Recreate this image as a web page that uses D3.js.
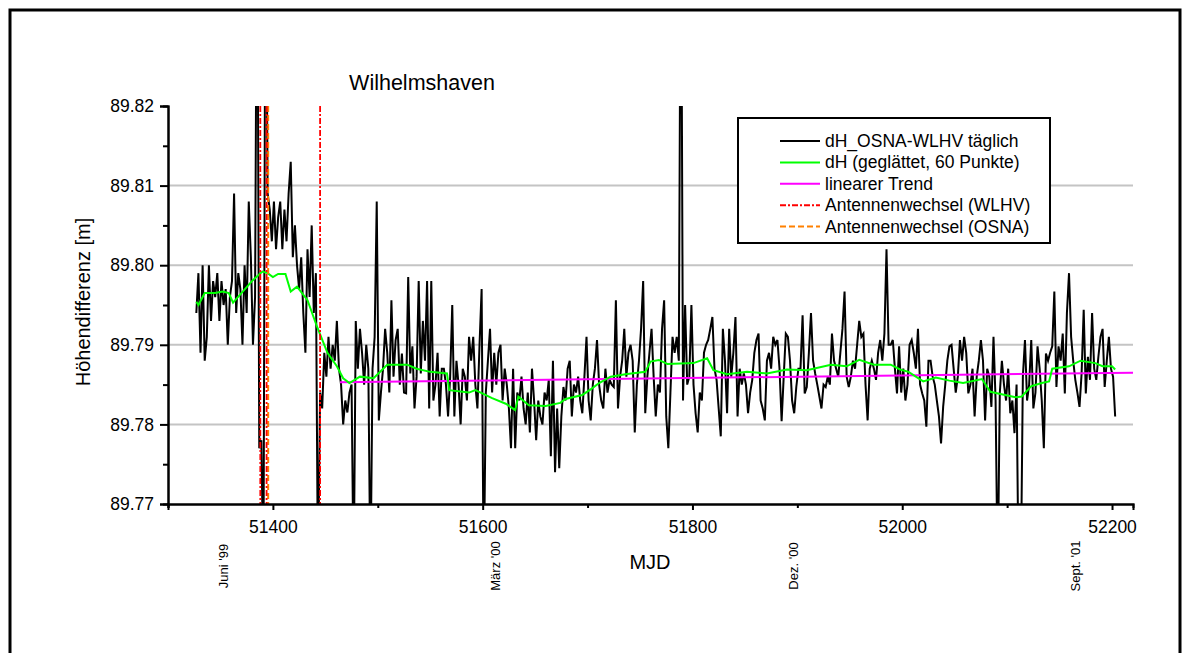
<!DOCTYPE html>
<html>
<head>
<meta charset="utf-8">
<script src="https://cdn.jsdelivr.net/npm/d3@7"></script>
<style>
  body { margin: 0; background: #fff; }
  svg text { font-family: "Liberation Sans", Arial, sans-serif; fill: #000; }
</style>
</head>
<body>
<div id="chart"></div>
<script>
// daily height difference OSNA-WLHV, every 2nd day
// values in mm above 89.780 m
var baseHeight = 89.78;
var dhStart = 51327;
var dhStep = 2;
var dhMm = [
  14, 19, 9, 20, 8, 11, 20, 13, 18, 16,
  19, 13, 18, 15, 17, 10, 16, 18, 29, 14,
  19, 17, 10, 20, 14, 28, 21, 10, 16, 70,
  -3, -2, -20, 70, 29, 27, 23, 28, 22, 26,
  28, 22, 27, 23, 29, 33, 21, 25, 20, 17,
  21, 14, 9, 22, 16, 25, 14, 19, -20, 4,
  2, 9, 6, 11, 7, 10, 8, 13, 7, 5,
  0, 3, 1.5, 4, 5, -20, 13, 7, 12, 9,
  5, 10, 7, -20, 7, 11, 28, 0.5, 4, 7,
  12, 9, 4, 15.6, 6, 10.6, 12, 5, 8.9, 4,
  3.9, 18.5, 6.4, 9.8, 2, 6, 18, 6.4, 13, 8,
  18, 2, 18, 3, 5, 9, 1, 7, 7, 5,
  1, 6, 15, 1, 8, 5, 0, 7, 6, 3,
  11, 8, 11, 5, 2, 10, 17, -20, 4, 8,
  12, 4, 9, 5, 9, 10, 3, 7, 5, 2,
  -3, 7, -3, 4, 3, 6, 2, 0, 4, -1,
  7, 3, -2, 3, 1, 0, 4, 3, 5.6, -4,
  8, -6, 2, -5.5, 1, 4.7, 3, 7, 8, 1,
  5, 4, 6, 3, 1.4, 6, 11, 3, 0.5, 5,
  7, 10.6, 5, 3, 2, 7, 4, 5.6, 5, 4.7,
  15.6, 2, 6, 8, 12, 6, 9, 10, 8, -1,
  5, 8, 12, 18, 1.4, 6, 9, 12, 6, 1,
  5, 4, 12, 15.6, 1, -3, 4, 11, 9, 11,
  8, 70, 3, 15, 5, 6, 15, 5, 1.4, -1,
  4, 3, 9, 10, 10.6, 12, 13.5, 7, 5.6, 2,
  -1.5, 12, 8, 1.4, 12, 6, 9, 13.5, 1, 7,
  5, 6.4, 5, 1.4, 4, 5.6, 9, 10.6, 11.4, 3,
  2, 0.5, 8, 9, 7, 11, 10, 10.6, 7, 0.4,
  6, 11.4, 11, 8, 3, 1.4, 4.7, 7, 7, 13.7,
  3.9, 4.7, 9, 14, 8, 6.4, 5, 3.5, 2, 5,
  4.7, 6, 5, 11.4, 8, 7, 6, 9, 12, 16.7,
  6, 4.7, 6, 8, 7, 10, 13, 11, 11.4, 5,
  0.5, 7, 8, 7, 5.6, 9, 10.6, 8, 11.4, 22,
  10, 10, 10.6, 7, 3.9, 9.8, 4, 7, 3, 5,
  10, 10.6, 9, 7, 12, 5, 3.9, 3, -0.3, 8,
  8, 6, 5, 3, 1, -2.4, 2.2, 5, 8, 9.8,
  10, 7, 4, 6, 10.6, 8, 11, 9, 3.9, 5,
  7, 1, 6, 8, 10.6, 8, 0.5, 7, 6, 2.2,
  11, 3, -20, 3.9, 8, 5, 3, 7, 1.4, 3,
  -1.1, 5, -20, -20, 6, 10.6, 3, 5, 10.6, 2,
  4, 9.8, 7, 3, -3, 8.9, 8, 9, 9.8, 16.7,
  4.7, 9.8, 8, 11.4, 3.9, 14, 19, 11, 8, 5.6,
  4, 2.2, 6.4, 14.4, 3.9, 8.5, 5.6, 14, 7, 5.6,
  8.5, 11, 12, 4.7, 8, 11, 7, 6, 1
];

// smoothed curve (60 points), mm above 89.780 m
var smoothMjd = [51327, 51329, 51335, 51345, 51352, 51358, 51362, 51370, 51380, 51390,
  51395, 51400, 51405, 51412, 51417, 51423, 51433, 51442, 51452, 51461,
  51467, 51473, 51483, 51496, 51509, 51528, 51537, 51550, 51566, 51568,
  51587, 51593, 51609, 51622, 51631, 51634, 51644, 51660, 51674, 51679,
  51695, 51704, 51711, 51722, 51736, 51755, 51760, 51768, 51776, 51801,
  51814, 51820, 51833, 51852, 51871, 51890, 51909, 51932, 51947, 51959,
  51973, 51989, 51998, 52006, 52020, 52032, 52045, 52058, 52076, 52084,
  52098, 52108, 52114, 52123, 52133, 52140, 52143, 52159, 52170, 52184,
  52191, 52200, 52203];
var smoothMm = [15.4, 15.0, 16.5, 16.5, 16.7, 16.5, 15.3, 16.5, 18.0, 19.2,
  19.0, 18.5, 18.9, 18.9, 16.7, 17.3, 15.6, 12.3, 9.0, 7.3,
  5.8, 5.2, 6.0, 5.8, 7.5, 7.5, 7.0, 6.6, 6.4, 4.3,
  4.0, 4.3, 3.3, 2.6, 1.8, 3.5, 2.4, 2.3, 2.7, 3.2,
  3.7, 4.5, 5.2, 6.0, 6.3, 6.6, 7.9, 8.1, 7.6, 7.7,
  8.3, 6.8, 6.3, 6.6, 6.4, 6.9, 6.8, 7.5, 7.3, 8.1,
  7.5, 7.5, 6.9, 6.6, 5.4, 5.9, 5.5, 5.2, 5.7, 4.1,
  3.7, 3.4, 3.5, 4.8, 5.2, 5.4, 7.0, 7.3, 8.0, 7.7,
  7.3, 7.3, 6.9];

// linear trend, from/to
var trendMjd = [51464, 52220];
var trendMm = [5.3, 6.5];

// antenna changes (MJD)
var wlhvChanges = [51388, 51394, 51445];
var osnaChanges = [51395.5];

var yTicks = [89.77, 89.78, 89.79, 89.80, 89.81, 89.82];
var yMinor = [89.775, 89.785, 89.795, 89.805, 89.815];
var yGrid = [89.78, 89.79, 89.80, 89.81];
var xTicks = [51400, 51600, 51800, 52000, 52200];
var xMinor = [51300, 51500, 51700, 51900, 52100];

var dateLabels = ["Juni '99", "März '00", "Dez. '00", "Sept. '01"];
var dateMjd = [51352, 51612, 51896, 52165];

var legendLabels = ["dH_OSNA-WLHV täglich", "dH (geglättet, 60 Punkte)", "linearer Trend",
  "Antennenwechsel (WLHV)", "Antennenwechsel (OSNA)"];

// ---------------------------------------------------------------
var width = 1188, height = 653;
var plot = {left: 168, top: 106, right: 1133, bottom: 504};

var svg = d3.select('#chart').append('svg')
  .attr('width', width)
  .attr('height', height);

svg.append('rect')
  .attr('x', 10).attr('y', 10)
  .attr('width', 1170).attr('height', 700)
  .attr('fill', 'none')
  .attr('stroke', '#000')
  .attr('stroke-width', 3);

var x = d3.scaleLinear().domain([51300, 52220]).range([plot.left, plot.right]);
var y = d3.scaleLinear().domain([89.77, 89.82]).range([plot.bottom, plot.top]);

svg.append('clipPath').attr('id', 'plotclip')
  .append('rect')
  .attr('x', plot.left).attr('y', plot.top)
  .attr('width', plot.right - plot.left)
  .attr('height', plot.bottom - plot.top);

// grid
svg.append('g').selectAll('line')
  .data(yGrid)
  .enter().append('line')
  .attr('x1', plot.left).attr('x2', plot.right)
  .attr('y1', function (d) { return y(d); })
  .attr('y2', function (d) { return y(d); })
  .attr('stroke', '#c4c4c4')
  .attr('stroke-width', 2);

var dh = dhMm.map(function (v, i) {
  return {mjd: dhStart + i * dhStep, h: baseHeight + v / 1000};
});
var smooth = smoothMjd.map(function (m, i) {
  return {mjd: m, h: baseHeight + smoothMm[i] / 1000};
});
var trend = trendMjd.map(function (m, i) {
  return {mjd: m, h: baseHeight + trendMm[i] / 1000};
});

var line = d3.line()
  .x(function (d) { return x(d.mjd); })
  .y(function (d) { return y(d.h); });

var plotG = svg.append('g').attr('clip-path', 'url(#plotclip)');

plotG.append('path')
  .datum(dh)
  .attr('d', line)
  .attr('fill', 'none')
  .attr('stroke', '#000')
  .attr('stroke-width', 2)
  .attr('stroke-linejoin', 'miter');

plotG.append('path')
  .datum(trend)
  .attr('d', line)
  .attr('fill', 'none')
  .attr('stroke', '#ff00ff')
  .attr('stroke-width', 2);

plotG.append('path')
  .datum(smooth)
  .attr('d', line)
  .attr('fill', 'none')
  .attr('stroke', '#00ff00')
  .attr('stroke-width', 2);

// antenna changes
plotG.selectAll('.osna')
  .data(osnaChanges)
  .enter().append('line')
  .attr('class', 'osna')
  .attr('x1', function (d) { return x(d); })
  .attr('x2', function (d) { return x(d); })
  .attr('y1', y(89.82)).attr('y2', y(89.77))
  .attr('stroke', '#ff8000')
  .attr('stroke-width', 2)
  .attr('stroke-dasharray', '6,3');

plotG.selectAll('.wlhv')
  .data(wlhvChanges)
  .enter().append('line')
  .attr('class', 'wlhv')
  .attr('x1', function (d) { return x(d); })
  .attr('x2', function (d) { return x(d); })
  .attr('y1', y(89.82)).attr('y2', y(89.77))
  .attr('stroke', '#ff0000')
  .attr('stroke-width', 1.8)
  .attr('stroke-dasharray', '6,2,2,2');

// axes
var yAxis = d3.axisLeft(y).tickValues(yTicks).tickSize(8).tickPadding(6)
  .tickFormat(d3.format('.2f'));
var yMinorAxis = d3.axisLeft(y).tickValues(yMinor).tickSize(5).tickFormat('');
var xAxis = d3.axisBottom(x).tickValues(xTicks).tickSize(6).tickPadding(11)
  .tickFormat(d3.format('d'));
var xMinorAxis = d3.axisBottom(x).tickValues(xMinor).tickSize(4).tickFormat('');

function styleAxis(g) {
  g.select('.domain').attr('stroke-width', 2).attr('stroke', '#000');
  g.selectAll('.tick line').attr('stroke-width', 2).attr('stroke', '#000');
  g.selectAll('text').style('font-size', '17.5px')
    .style('font-family', '"Liberation Sans", Arial, sans-serif');
}

svg.append('g').attr('transform', 'translate(' + plot.left + ',0)').call(yMinorAxis).call(styleAxis);
svg.append('g').attr('transform', 'translate(' + plot.left + ',0)').call(yAxis).call(styleAxis);
svg.append('g').attr('transform', 'translate(0,' + plot.bottom + ')').call(xMinorAxis).call(styleAxis);
svg.append('g').attr('transform', 'translate(0,' + plot.bottom + ')').call(xAxis).call(styleAxis);

// date labels under the axis
svg.selectAll('.datelab')
  .data(dateLabels)
  .enter().append('text')
  .attr('class', 'datelab')
  .attr('transform', function (d, i) {
    return 'translate(' + (x(dateMjd[i]) + 5) + ',566)rotate(-90)';
  })
  .attr('text-anchor', 'middle')
  .style('font-size', '13px')
  .text(function (d) { return d; });

// titles
svg.append('text')
  .attr('x', 422).attr('y', 90)
  .attr('text-anchor', 'middle')
  .style('font-size', '21.5px')
  .text('Wilhelmshaven');

svg.append('text')
  .attr('x', 650).attr('y', 569)
  .attr('text-anchor', 'middle')
  .style('font-size', '20px')
  .text('MJD');

svg.append('text')
  .attr('transform', 'translate(90,302)rotate(-90)')
  .attr('text-anchor', 'middle')
  .style('font-size', '20px')
  .text('Höhendifferenz [m]');

// legend
var legend = svg.append('g').attr('transform', 'translate(738,118)');
legend.append('rect')
  .attr('width', 312).attr('height', 125)
  .attr('fill', '#fff')
  .attr('stroke', '#000')
  .attr('stroke-width', 2);

var legendColors = ['#000', '#00ff00', '#ff00ff', '#ff0000', '#ff8000'];
var legendDash = [null, null, null, '6,2,2,2', '6,3'];

var rows = legend.selectAll('.row')
  .data(legendLabels)
  .enter().append('g')
  .attr('class', 'row')
  .attr('transform', function (d, i) { return 'translate(0,' + (23 + i * 21.4) + ')'; });

rows.append('line')
  .attr('x1', 42).attr('x2', 82)
  .attr('stroke', function (d, i) { return legendColors[i]; })
  .attr('stroke-width', 2)
  .attr('stroke-dasharray', function (d, i) { return legendDash[i]; });

rows.append('text')
  .attr('x', 87).attr('y', 6)
  .style('font-size', '17.5px')
  .text(function (d) { return d; });
</script>
</body>
</html>
